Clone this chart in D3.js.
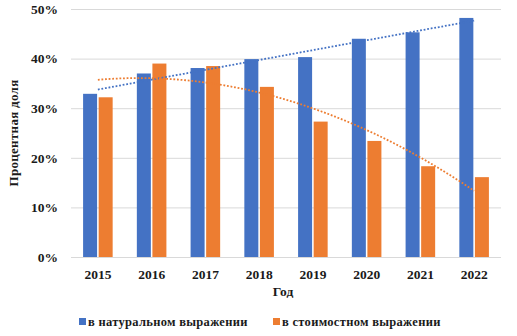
<!DOCTYPE html>
<html><head><meta charset="utf-8">
<script src="https://cdn.jsdelivr.net/npm/d3@7"></script>
<style>body{margin:0;background:#fff}svg{display:block}svg text{font-family:"Liberation Serif","Times New Roman",serif;font-weight:bold;fill:#1a1a1a}</style>
</head><body>
<script>
const years = ["2015","2016","2017","2018","2019","2020","2021","2022"];
const natural = [32.9, 37.0, 38.1, 39.9, 40.3, 44.0, 45.3, 48.2];
const cost = [32.2, 39.0, 38.5, 34.3, 27.3, 23.4, 18.3, 16.1];
const seriesNames = ["в натуральном выражении", "в стоимостном выражении"];
const yTicks = [0, 10, 20, 30, 40, 50];
const colors = ["#4472C4", "#ED7D31"];

const W = 517, H = 336;
const m = {l: 71, r: 16, t: 9, b: 79};
const svg = d3.select("body").append("svg").attr("width", W).attr("height", H);

const x = d3.scaleBand().domain(years).range([m.l, W - m.r]).paddingInner(0.45).paddingOuter(0.225);
const xc = d3.scaleBand().domain(years).range([m.l, W - m.r]);
const y = d3.scaleLinear().domain([0, 50]).range([H - m.b, m.t]);
const xs = d3.scaleBand().domain([0, 1]).range([0, x.bandwidth()]).paddingInner(0.1);

// gridlines
svg.append("g").selectAll("line").data(yTicks).join("line")
  .attr("x1", m.l).attr("x2", W - m.r)
  .attr("y1", d => y(d) + 0.5).attr("y2", d => y(d) + 0.5)
  .attr("stroke", "#d9d9d9").attr("stroke-width", 1);

// y axis labels
const yAxis = svg.append("g").attr("transform", `translate(${m.l - 10},0)`)
  .call(d3.axisLeft(y).tickValues(yTicks).tickFormat(d => d + "%").tickSize(0));
yAxis.select(".domain").remove();
yAxis.selectAll("text").attr("font-size", 13.5).attr("dx", 0);

// x axis labels
const xAxis = svg.append("g").attr("transform", `translate(0,${H - m.b + 9})`)
  .call(d3.axisBottom(xc).tickSize(0));
xAxis.select(".domain").remove();
xAxis.selectAll("text").attr("font-size", 13.5);

// bars
const data = [natural, cost];
data.forEach((vals, si) => {
  svg.append("g").selectAll("rect").data(vals).join("rect")
    .attr("x", (d, i) => x(years[i]) + xs(si))
    .attr("width", xs.bandwidth())
    .attr("y", d => y(d))
    .attr("height", d => y(0) - y(d))
    .attr("fill", colors[si]);
});

// trendlines (least squares: linear for natural, quadratic for cost)
function polyfit(vals, deg) {
  const xsv = vals.map((_, i) => i + 1);
  const M = deg + 1;
  const A = Array.from({length: M}, () => Array(M + 1).fill(0));
  for (let r = 0; r < M; r++) {
    for (let c = 0; c < M; c++) A[r][c] = d3.sum(xsv, xv => Math.pow(xv, r + c));
    A[r][M] = d3.sum(xsv, (xv, i) => Math.pow(xv, r) * vals[i]);
  }
  for (let i = 0; i < M; i++) {
    let p = i; for (let k = i + 1; k < M; k++) if (Math.abs(A[k][i]) > Math.abs(A[p][i])) p = k;
    [A[i], A[p]] = [A[p], A[i]];
    for (let k = 0; k < M; k++) if (k !== i) {
      const f = A[k][i] / A[i][i];
      for (let c = i; c <= M; c++) A[k][c] -= f * A[i][c];
    }
  }
  const coef = A.map((row, i) => row[M] / row[i]);
  return t => coef.reduce((s, c, k) => s + c * Math.pow(t, k), 0);
}
const fits = [polyfit(natural, 1), polyfit(cost, 2)];
const tx = d3.scaleLinear().domain([1, years.length]).range([xc(years[0]) + xc.bandwidth() / 2, xc(years[years.length - 1]) + xc.bandwidth() / 2]);
fits.forEach((f, si) => {
  const pts = d3.range(1, years.length + 0.001, 0.05).map(t => [tx(t), y(f(t))]);
  svg.append("path").attr("d", d3.line()(pts)).attr("fill", "none")
    .attr("stroke", colors[si]).attr("stroke-width", 1.8).attr("stroke-dasharray", "1.8,1.8");
});

// axis titles
svg.append("text").attr("transform", `translate(18,${(m.t + H - m.b) / 2}) rotate(-90)`)
  .attr("text-anchor", "middle").attr("font-size", 13).attr("letter-spacing", 0.3).text("Процентная доля");
svg.append("text").attr("x", 283).attr("y", 296)
  .attr("text-anchor", "middle").attr("font-size", 13.5).text("Год");

// legend
const legX = [79, 273];
seriesNames.forEach((name, i) => {
  svg.append("rect").attr("x", legX[i]).attr("y", 318).attr("width", 7).attr("height", 7).attr("fill", colors[i]);
  svg.append("text").attr("x", legX[i] + 9).attr("y", 326)
    .attr("font-size", 12.5).attr("letter-spacing", 0.3).text(name);
});
</script>
</body></html>
